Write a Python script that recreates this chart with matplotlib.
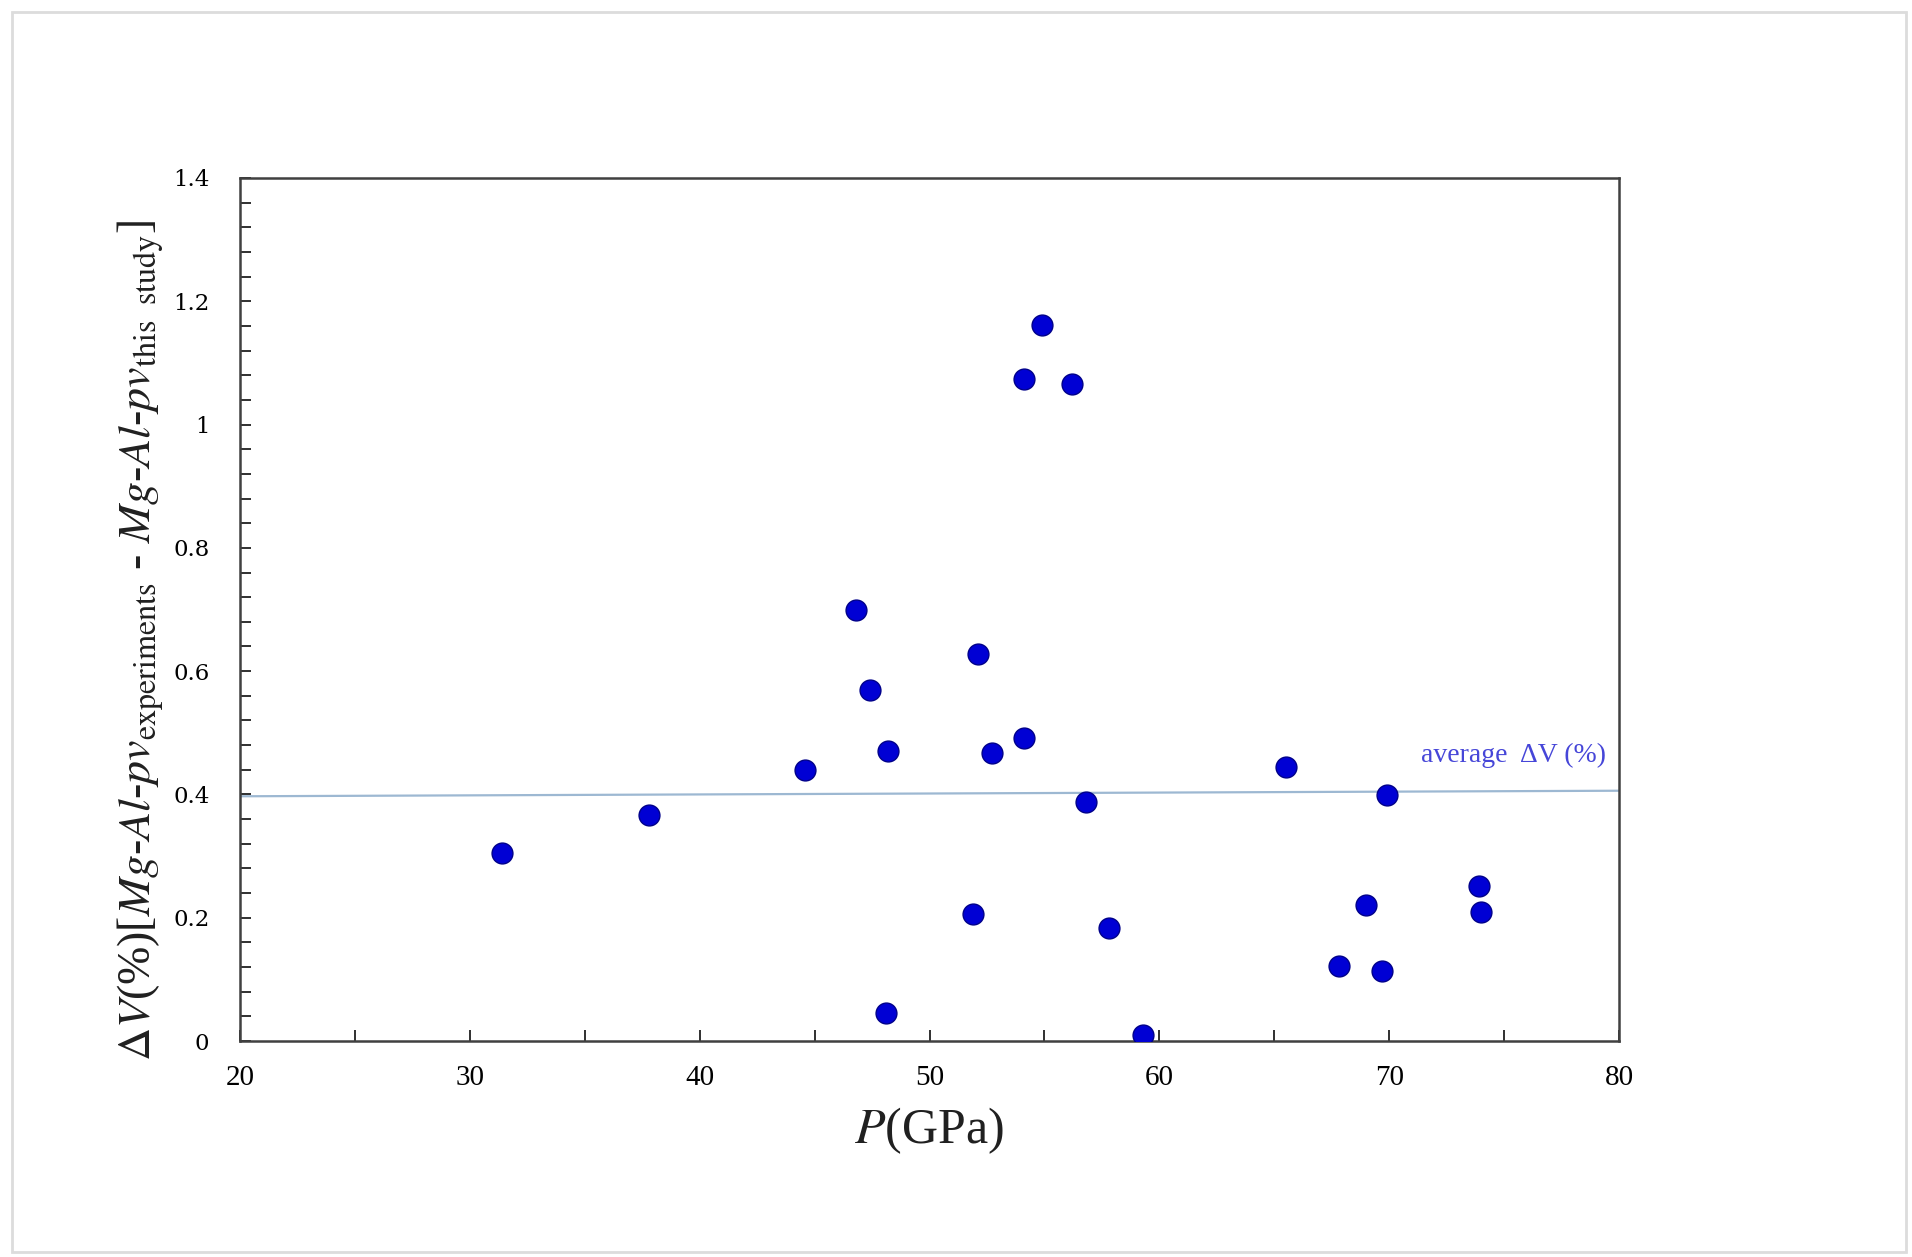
import matplotlib
matplotlib.use("Agg")
import matplotlib.pyplot as plt
from matplotlib.ticker import MultipleLocator, FixedLocator
from matplotlib.patches import Rectangle

# Data (P in GPa, ΔV in %)
pressure = [31.4, 37.8, 44.6, 46.8, 47.4, 48.2, 48.1, 52.1, 51.9, 52.7, 54.1, 54.1,
            54.9, 56.2, 56.8, 57.8, 59.3, 65.5, 67.8, 69.0, 69.7, 69.9, 73.9, 74.0]
delta_v = [0.305, 0.366, 0.439, 0.700, 0.569, 0.471, 0.045, 0.627, 0.206, 0.467, 0.492, 1.074,
           1.161, 1.066, 0.388, 0.184, 0.010, 0.445, 0.121, 0.221, 0.113, 0.399, 0.251, 0.210]
avg_x = [20, 80]
avg_y = [0.397, 0.406]
x_ticks = [20, 30, 40, 50, 60, 70, 80]
y_ticks = [0, 0.2, 0.4, 0.6, 0.8, 1, 1.2, 1.4]
y_tick_labels = ["0", "0.2", "0.4", "0.6", "0.8", "1", "1.2", "1.4"]

plt.rcParams['mathtext.fontset'] = 'stix'
plt.rcParams['font.family'] = ['Liberation Serif', 'DejaVu Serif']

W, H = 1912, 1257
fig = plt.figure(figsize=(W / 100, H / 100), dpi=100)
fig.patch.set_facecolor('white')
fig.patches.append(Rectangle((12 / W, 5 / H), (1906 - 12) / W, (1245 - 5) / H,
                             transform=fig.transFigure, fill=False,
                             edgecolor='#dcdcdc', linewidth=2))

ax = fig.add_axes([240 / W, 1 - 1041 / H, (1619 - 240) / W, (1041 - 178) / H])
ax.plot(avg_x, avg_y, color='#9db8d2', linewidth=1.6, zorder=2)
ax.plot(pressure, delta_v, linestyle='none', marker='o', markersize=15,
        markerfacecolor='#0000d4', markeredgecolor='#00008a', markeredgewidth=1.0, zorder=3)
ax.text(71.4, 0.463, "average  \u0394V (%)", color='#4646d8', fontsize=20,
        ha='left', va='center', family=['Liberation Serif', 'DejaVu Serif'])

ax.set_xlim(20, 80)
ax.set_ylim(0, 1.4)
ax.xaxis.set_major_locator(FixedLocator(x_ticks))
ax.xaxis.set_minor_locator(MultipleLocator(5))
ax.yaxis.set_major_locator(FixedLocator(y_ticks))
ax.yaxis.set_minor_locator(MultipleLocator(0.04))
ax.set_yticklabels(y_tick_labels)

for s in ax.spines.values():
    s.set_color('#404040')
    s.set_linewidth(1.8)

ax.tick_params(axis='both', which='both', direction='in', color='#303030', width=1.4)
ax.tick_params(axis='x', which='both', length=8, pad=17, labelsize=21)
ax.tick_params(axis='y', which='both', length=8, pad=22, labelsize=16.5)
ax.tick_params(top=False, right=False)
for lab in ax.get_yticklabels():
    lab.set_family('DejaVu Serif')
for lab in ax.get_xticklabels():
    lab.set_family('Liberation Serif')

fig.text(929 / W, 1 - 1131 / H, r"$P$(GPa)", fontsize=36, ha='center', va='center',
         color='#202020')
ylab = (r"$\Delta V$(%)[$Mg$-$Al$-$pv_{\rm experiments}$ - "
        r"$Mg$-$Al$-$pv_{\rm this\ \ study}$]")
fig.text(140 / W, 1 - 640 / H, ylab, fontsize=33, rotation=90, ha='center', va='center',
         color='#202020')

fig.savefig("out.png", dpi=100, facecolor='white')
